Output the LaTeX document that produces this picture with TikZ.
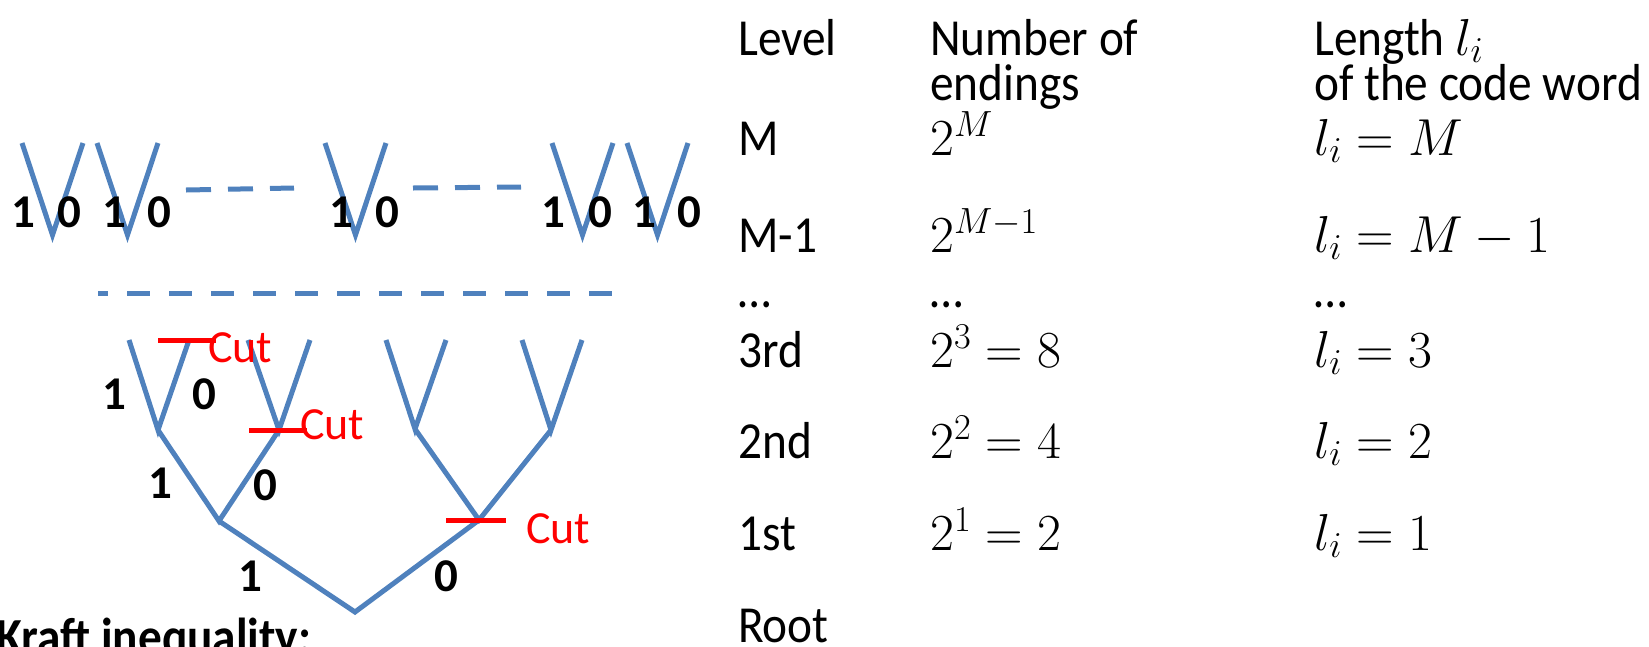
\documentclass[tikz,border=0pt]{standalone}
\usepackage{fix-cm}
\usepackage{fontspec}
\setmainfont{Carlito}[FakeStretch=0.91]
\newfontfamily\labelfont{Carlito}
\usetikzlibrary{positioning}
\definecolor{treeblue}{HTML}{4F81BD}
\definecolor{cutred}{HTML}{FF0000}

\begin{document}
\begin{tikzpicture}[x=1pt, y=-1pt,
  branch/.style={draw=treeblue, line width=5pt},
  gapline/.style={draw=treeblue, line width=5pt},
  cutline/.style={draw=cutred, line width=5pt},
  bit/.style={inner sep=0pt, font=\labelfont\fontsize{47}{50}\selectfont\bfseries},
  cut/.style={anchor=base west, inner sep=0pt, text=cutred, font=\labelfont\fontsize{46}{50}\selectfont},
  txt/.style={anchor=base west, inner sep=0pt, font=\fontsize{52}{45}\selectfont}
]
  \clip (0,0) rectangle (1649,646);

  % level M: the last pairs of branches
  \foreach \nm/\x/\a/\b in {va/22/1/47, vb/97/17/62, vc/325/16/62, vd/552/1/48, ve/627/17/62}{
    \coordinate (\nm-l) at (\x,143);
    \coordinate (\nm-b) at (\x+30.5,235);
    \coordinate (\nm-r) at (\x+61,143);
    \draw[branch] (\nm-l) -- (\nm-b) -- (\nm-r);
    \node[bit] (\nm-one) at (\x+\a,212) {1};
    \node[bit] (\nm-zero) at (\x+\b,212) {0};
  }
  \coordinate (gapa1) at (186,190);
  \coordinate (gapa2) at (294,188);
  \coordinate (gapb1) at (413,188);
  \coordinate (gapb2) at (521,187);
  \draw[gapline, dash pattern=on 25pt off 17pt] (gapa1) -- (gapa2);
  \draw[gapline, dash pattern=on 25pt off 17pt] (gapb1) -- (gapb2);

  \coordinate (gapc1) at (98,293);
  \coordinate (gapc2) at (612,293);
  \draw[gapline, dash pattern=on 23pt off 19pt, dash phase=13pt] (gapc1) -- (gapc2);

  % the tree up to level 3
  \coordinate (root) at (355,612);
  \coordinate (n1) at (219,521);
  \coordinate (n0) at (479,520);
  \coordinate (n11) at (158,430);
  \coordinate (n10) at (279,430);
  \coordinate (n01) at (415,429);
  \coordinate (n00) at (551,430);
  \coordinate (n111) at (129,340);
  \coordinate (n110) at (189,340);
  \coordinate (n101) at (248,340);
  \coordinate (n100) at (310,340);
  \coordinate (n011) at (386,340);
  \coordinate (n010) at (446,340);
  \coordinate (n001) at (522,340);
  \coordinate (n000) at (582,340);

  \draw[branch] (n1) -- (root) -- (n0);
  \draw[branch] (n11) -- (n1) -- (n10);
  \draw[branch] (n01) -- (n0) -- (n00);
  \draw[branch] (n111) -- (n11) -- (n110);
  \draw[branch] (n101) -- (n10) -- (n100);
  \draw[branch] (n011) -- (n01) -- (n010);
  \draw[branch] (n001) -- (n00) -- (n000);

  \node[bit] (b1) at (250,576) {1};
  \node[bit] (b0) at (446,576) {0};
  \node[bit] (b11) at (160,483) {1};
  \node[bit] (b10) at (265,485) {0};
  \node[bit] (b111) at (114,394) {1};
  \node[bit] (b110) at (204,394) {0};

  % cuts
  \draw[cutline] ([xshift=-31pt]n110) -- ([xshift=27pt]n110);
  \draw[cutline] ([xshift=-30pt]n10) -- ([xshift=28pt]n10);
  \draw[cutline] ([xshift=-33pt]n0) -- ([xshift=27pt]n0);
  \node[cut] (cuta) at (208,362) {Cut};
  \node[cut] (cutb) at (300,439) {Cut};
  \node[cut] (cutc) at (526,543) {Cut};

  \node[txt, font=\fontsize{52}{45}\selectfont\bfseries] (kraft) at (-4,654) {Kraft inequality:};

  % table
  \node[txt] (hlevel) at (738,55) {Level};
  \node[txt] (hnum) at (930,55) {Number of};
  \node[txt] (hnum2) at (930,100) {endings};
  \node[txt] (hlen) at (1314,55) {Length $l_i$};
  \node[txt] (hlen2) at (1314,100) {of the code word};

  \node[txt] (lvM) at (738,155) {M};
  \node[txt] (numM) at (930,155) {$2^M$};
  \node[txt] (lenM) at (1314,155) {$l_i = M$};

  \node[txt] (lvMm) at (738,252) {M-1};
  \node[txt] (numMm) at (930,252) {$2^{M-1}$};
  \node[txt] (lenMm) at (1314,252) {$l_i = M-1$};

  \node[txt] (lvdots) at (738,307) {…};
  \node[txt] (numdots) at (930,307) {…};
  \node[txt] (lendots) at (1314,307) {…};

  \node[txt] (lv3) at (738,367) {3rd};
  \node[txt] (num3) at (930,367) {$2^3 = 8$};
  \node[txt] (len3) at (1314,367) {$l_i = 3$};

  \node[txt] (lv2) at (738,458) {2nd};
  \node[txt] (num2) at (930,458) {$2^2 = 4$};
  \node[txt] (len2) at (1314,458) {$l_i = 2$};

  \node[txt] (lv1) at (738,550) {1st};
  \node[txt] (num1) at (930,550) {$2^1 = 2$};
  \node[txt] (len1) at (1314,550) {$l_i = 1$};

  \node[txt] (lvroot) at (738,642) {Root};
\end{tikzpicture}
\end{document}
